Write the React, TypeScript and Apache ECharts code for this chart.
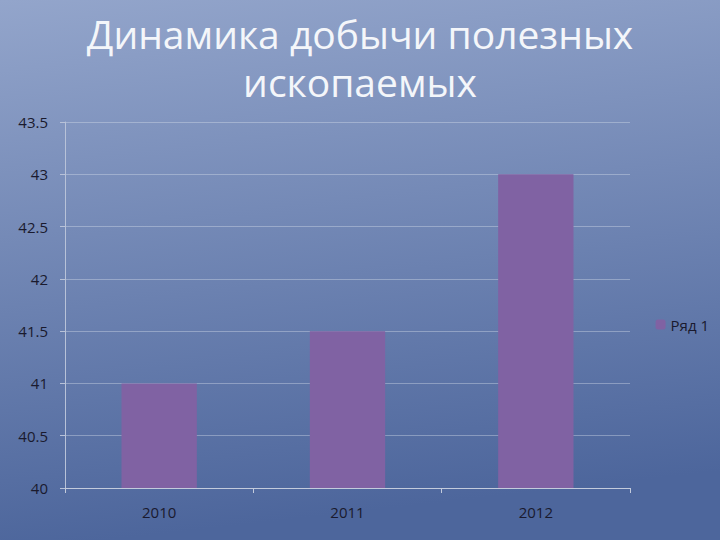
import React, { useEffect, useRef } from 'react';
import * as echarts from 'echarts';

const titleText = 'Динамика добычи полезных\nископаемых';
const seriesName = 'Ряд 1';
const years = ['2010', '2011', '2012'];
const values = [41, 41.5, 43];
const yMin = 40;
const yMax = 43.5;
const yStep = 0.5;

const App: React.FC = () => {
  const chartRef = useRef<HTMLDivElement>(null);

  useEffect(() => {
    if (!chartRef.current) return;
    const chart = echarts.init(chartRef.current, undefined, { renderer: 'svg' });

    const option: echarts.EChartsOption = {
      animation: false,
      backgroundColor: {
        type: 'linear',
        x: 0, y: 0, x2: 0.15, y2: 1,
        colorStops: [
          { offset: 0, color: '#93a5cb' },
          { offset: 1, color: '#4d669c' }
        ]
      },
      title: {
        text: titleText,
        left: 'center',
        top: 4,
        textStyle: {
          color: '#f4f6fa',
          fontSize: 39,
          fontWeight: 'normal',
          fontFamily: 'Open Sans',
          lineHeight: 48
        }
      },
      legend: {
        orient: 'vertical',
        right: 6,
        top: 312,
        itemWidth: 10,
        itemHeight: 10,
        itemGap: 4,
        data: [seriesName],
        textStyle: { color: '#1a1a2e', fontSize: 15, fontFamily: 'Open Sans' }
      },
      grid: {
        left: 65,
        right: 90,
        top: 122,
        bottom: 52
      },
      xAxis: {
        type: 'category',
        data: years,
        axisLine: { lineStyle: { color: '#c3cbdc', width: 1 } },
        axisTick: { show: true, length: 5, lineStyle: { color: '#c3cbdc' } },
        axisLabel: { color: '#1a1a2e', fontSize: 15, margin: 16, fontFamily: 'Open Sans' }
      },
      yAxis: {
        type: 'value',
        min: yMin,
        max: yMax,
        interval: yStep,
        axisLine: { show: true, lineStyle: { color: '#b8c2d8', width: 1 } },
        axisTick: { show: true, length: 5, lineStyle: { color: '#b8c2d8' } },
        splitLine: { lineStyle: { color: 'rgba(215,222,236,0.4)', width: 1 } },
        axisLabel: { color: '#1a1a2e', fontSize: 15, margin: 17, fontFamily: 'Open Sans' }
      },
      series: [
        {
          name: seriesName,
          type: 'bar',
          data: values,
          barWidth: '40%',
          itemStyle: { color: '#8062a3' }
        }
      ]
    };

    chart.setOption(option);
    return () => chart.dispose();
  }, []);

  return (
    <div
      ref={chartRef}
      style={{ position: 'fixed', left: 0, top: 0, width: 720, height: 540 }}
    />
  );
};

export default App;
